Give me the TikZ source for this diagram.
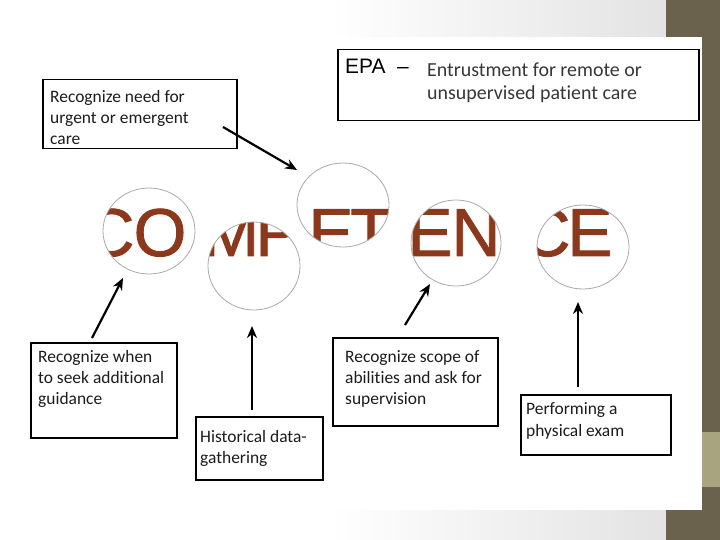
\documentclass[tikz,border=0pt]{standalone}
\usepackage{fontspec}
\setmainfont{Carlito}[RawFeature={-liga;-clig;-calt;-dlig}]
\newfontfamily\arialf{Liberation Sans}
\newfontfamily\arialheavy{Liberation Sans}[FakeBold=1.2]
\usetikzlibrary{arrows.meta,shapes.geometric}
\definecolor{bandDark}{RGB}{107,98,78}
\definecolor{bandTan}{RGB}{168,164,127}
\definecolor{compBrown}{RGB}{140,56,28}
\definecolor{ringGray}{RGB}{170,170,170}
\definecolor{txtDark}{RGB}{28,28,28}
\definecolor{txtGray}{RGB}{55,55,55}
\begin{document}
\begin{tikzpicture}[x=1bp,y=-1bp,
  box/.style={draw=black, line width=1.5bp, fill=white, inner sep=0pt, anchor=north west},
  boxtxt/.style={anchor=base west, inner sep=0pt, font=\fontsize{17.5}{21}\selectfont, text=txtDark},
  epatxt/.style={anchor=base west, inner sep=0pt, font=\fontsize{20}{24}\selectfont, text=txtGray},
  epahead/.style={anchor=base west, inner sep=0pt, font=\arialf\fontsize{21}{24}\selectfont, text=black},
  ring/.style={ellipse, draw=ringGray, line width=0.8bp, inner sep=0pt},
  letter/.style={anchor=base, inner sep=0pt, font=\arialheavy\fontsize{68}{68}\selectfont, text=compBrown},
  arr/.style={-{Stealth[length=12bp,width=10bp]}, line width=2.2bp, draw=black}]
\useasboundingbox (0,0) rectangle (720,540);
% background
\fill[white] (0,0) rectangle (720,540);
\shade[left color=white, right color=black!11] (330,0) rectangle (666,37);
\shade[left color=white, right color=black!11] (330,510) rectangle (666,540);
\fill[bandDark] (666,0) rectangle (720,540);
\fill[bandTan] (702,432) rectangle (720,487);
\fill[white] (0,37) rectangle (702,510);

% COMPETENCE seen through the circles
\begin{scope}
  \clip (149,231) ellipse [x radius=46, y radius=43]
        (254,266) ellipse [x radius=46, y radius=44]
        (343,205) ellipse [x radius=46, y radius=42]
        (456,243) ellipse [x radius=45, y radius=43]
        (583,247) ellipse [x radius=46, y radius=42];
  \foreach \ch/\cx in {C/110,O/160,M/231,P/278,E/331,T/371,E/430,N/476,C/546,E/590}{
    \node[letter] at (\cx,256) {\ch};
  }
\end{scope}
\node[ring, minimum width=92bp, minimum height=86bp] (rCO) at (149,231) {};
\node[ring, minimum width=92bp, minimum height=88bp] (rMP) at (254,266) {};
\node[ring, minimum width=92bp, minimum height=84bp] (rPET) at (343,205) {};
\node[ring, minimum width=90bp, minimum height=86bp] (rEN) at (456,243) {};
\node[ring, minimum width=92bp, minimum height=84bp] (rCE) at (583,247) {};

% EPA box
\node[box, minimum width=361bp, minimum height=71bp] (epa) at (337,49) {};
\node[epahead] (epaA) at (345,74) {EPA};
\node[epahead] (epaD) at (397,74) {–};
\node[epatxt] (epa1) at (427,77) {Entrustment for remote or};
\node[epatxt] (epa2) at (427,100) {unsupervised patient care};

% Box A
\node[box, minimum width=194bp, minimum height=69bp] (boxA) at (42,79) {};
\node[boxtxt] (a1) at (50,103) {Recognize need for};
\node[boxtxt] (a2) at (50,124) {urgent or emergent};
\node[boxtxt] (a3) at (50,145) {care};

% Box B
\node[box, minimum width=146bp, minimum height=95bp] (boxB) at (30,342) {};
\node[boxtxt] (b1) at (38,362) {Recognize when};
\node[boxtxt] (b2) at (38,383) {to seek additional};
\node[boxtxt] (b3) at (38,404) {guidance};

% Box C
\node[box, minimum width=127bp, minimum height=63bp] (boxC) at (195,416) {};
\node[boxtxt] (c1) at (200,442) {Historical data-};
\node[boxtxt] (c2) at (200,463) {gathering};

% Box D
\node[box, minimum width=165bp, minimum height=88bp] (boxD) at (332,337) {};
\node[boxtxt] (d1) at (345,362) {Recognize scope of};
\node[boxtxt] (d2) at (345,383) {abilities and ask for};
\node[boxtxt] (d3) at (345,404) {supervision};

% Box E
\node[box, minimum width=150bp, minimum height=60bp] (boxE) at (520,394) {};
\node[boxtxt] (e1) at (526,414) {Performing a};
\node[boxtxt] (e2) at (526,436) {physical exam};

% arrows
\coordinate (s1) at (223,127); \coordinate (t1) at (297,170);
\coordinate (s2) at (92,338);  \coordinate (t2) at (123,278);
\coordinate (s3) at (252,410); \coordinate (t3) at (252,326);
\coordinate (s4) at (405,325); \coordinate (t4) at (430,284);
\coordinate (s5) at (578,387); \coordinate (t5) at (578,302);
\draw[arr] (s1) -- (t1);
\draw[arr] (s2) -- (t2);
\draw[arr] (s3) -- (t3);
\draw[arr] (s4) -- (t4);
\draw[arr] (s5) -- (t5);
\end{tikzpicture}
\end{document}
